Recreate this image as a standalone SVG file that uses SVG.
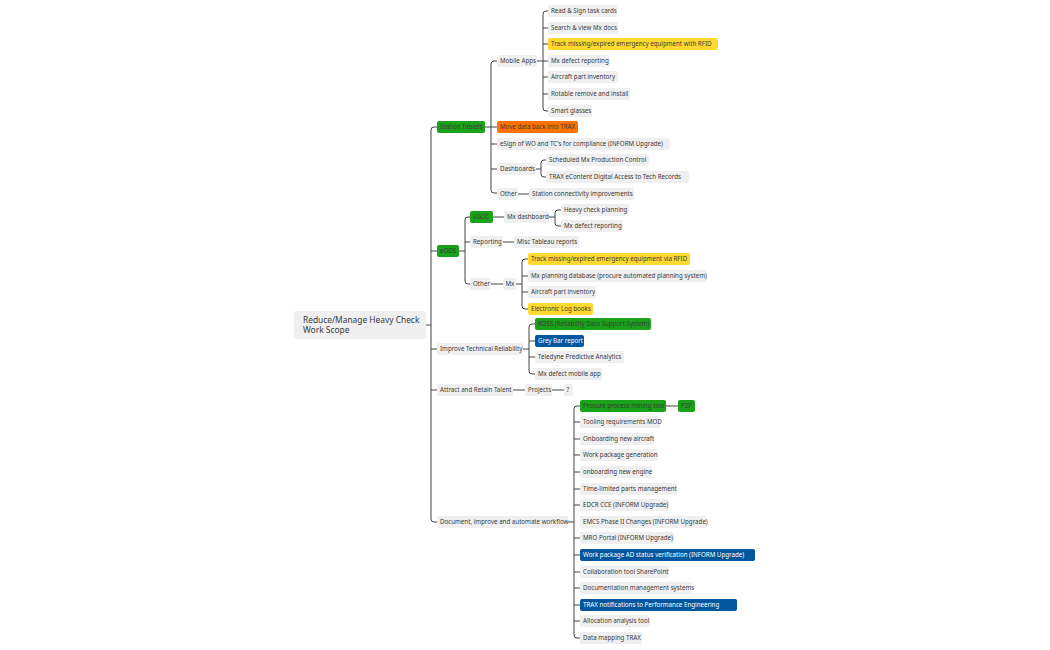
<svg xmlns="http://www.w3.org/2000/svg" width="1050" height="650" viewBox="0 0 1050 650">
<style>
.n rect{fill:#efefef}
.n text{font-family:"Noto Sans","Liberation Sans",sans-serif;font-size:6.2px;fill:#3a3a3a}
.g rect{fill:#1ba21b}.o rect{fill:#ff7200}.y rect{fill:#ffd92f}.b rect{fill:#00579e}
.b text{fill:#fff}
#edges path{fill:none;stroke:#444;stroke-width:1}
</style>
<rect width="1050" height="650" fill="#fff"/>
<g id="edges">
<path d="M426,325 H431 M437,127 H434 Q431,127 431,130 V519 Q431,522 434,522 H437 M431,251 H437 M431,349 H437 M431,390 H437"/>
<path d="M485,127 H497 M497,61 H494 Q491,61 491,64 V190 Q491,193 494,193 H497 M491,144 H497 M491,169 H497"/>
<path d="M537,61 H543 M548,11 H546 Q543,11 543,14 V108 Q543,111 546,111 H548 M543,28 H548 M543,44 H548 M543,61 H548 M543,77 H548 M543,94 H548"/>
<path d="M536,169 H541 M546,160 H544 Q541,160 541,163 V174 Q541,177 544,177 H546"/>
<path d="M518,194 H529"/>
<path d="M459,251 H465 M470,217 H468 Q465,217 465,220 V281 Q465,284 468,284 H470 M465,242 H470"/>
<path d="M493,217 H504 M549,217 H555 M561,210 H558 Q555,210 555,213 V223 Q555,226 558,226 H561"/>
<path d="M503,242 H514 M491,284 H503"/>
<path d="M516,284 H522 M528,259 H525 Q522,259 522,262 V306 Q522,309 525,309 H528 M522,276 H528 M522,292 H528"/>
<path d="M523,349 H529 M535,324 H532 Q529,324 529,327 V371 Q529,374 532,374 H535 M529,341 H535 M529,357 H535"/>
<path d="M513,390 H525 M552,390 H564"/>
<path d="M568,522 H574 M580,406 H577 Q574,406 574,409 V635 Q574,638 577,638 H580 M574,422 H580 M574,439 H580 M574,455 H580 M574,472 H580 M574,489 H580 M574,505 H580 M574,538 H580 M574,555 H580 M574,572 H580 M574,588 H580 M574,605 H580 M574,621 H580 M666,406 H678"/>
</g>
<g id="root" class="n"><rect x="294" y="311" width="132" height="28" rx="3"/><text x="303" y="322.5" style="font-size:8.4px">Reduce/Manage Heavy Check</text><text x="303" y="333" style="font-size:8.4px">Work Scope</text></g>
<g id="st" class="n g"><rect x="437" y="121" width="48" height="12" rx="2"/><text x="440" y="129.3">Station Tablets</text></g>
<g id="eods" class="n g"><rect x="437" y="245" width="22" height="12" rx="2"/><text x="440" y="253.3">eODS</text></g>
<g id="itr" class="n"><rect x="437" y="343" width="86" height="12" rx="2"/><text x="440" y="351.3">Improve Technical Reliability</text></g>
<g id="art" class="n"><rect x="437" y="384" width="76" height="12" rx="2"/><text x="440" y="392.3">Attract and Retain Talent</text></g>
<g id="doc" class="n"><rect x="437" y="516" width="131" height="12" rx="2"/><text x="440" y="524.3">Document, improve and automate workflow</text></g>
<g id="ma" class="n"><rect x="497" y="55" width="40" height="12" rx="2"/><text x="500" y="63.3">Mobile Apps</text></g>
<g id="mv" class="n o"><rect x="497" y="121" width="81" height="12" rx="2"/><text x="500" y="129.3">Move data back into TRAX</text></g>
<g id="es" class="n"><rect x="497" y="138" width="173" height="12" rx="2"/><text x="500" y="146.3">eSign of WO and TC's for compliance (INFORM Upgrade)</text></g>
<g id="db" class="n"><rect x="497" y="163" width="39" height="12" rx="2"/><text x="500" y="171.3">Dashboards</text></g>
<g id="oth1" class="n"><rect x="497" y="188" width="21" height="12" rx="2"/><text x="500" y="196.3">Other</text></g>
<g id="m1" class="n"><rect x="548" y="5" width="69" height="12" rx="2"/><text x="551" y="13.3">Read &amp; Sign task cards</text></g>
<g id="m2" class="n"><rect x="548" y="22" width="70" height="12" rx="2"/><text x="551" y="30.3">Search &amp; view Mx docs</text></g>
<g id="m3" class="n y"><rect x="548" y="38" width="170" height="12" rx="2"/><text x="551" y="46.3">Track missing/expired emergency equipment with RFID</text></g>
<g id="m4" class="n"><rect x="548" y="55" width="62" height="12" rx="2"/><text x="551" y="63.3">Mx defect reporting</text></g>
<g id="m5" class="n"><rect x="548" y="71" width="70" height="12" rx="2"/><text x="551" y="79.3">Aircraft part inventory</text></g>
<g id="m6" class="n"><rect x="548" y="88" width="82" height="12" rx="2"/><text x="551" y="96.3">Rotable remove and install</text></g>
<g id="m7" class="n"><rect x="548" y="105" width="44" height="12" rx="2"/><text x="551" y="113.3">Smart glasses</text></g>
<g id="d1" class="n"><rect x="546" y="154" width="103" height="12" rx="2"/><text x="549" y="162.3">Scheduled Mx Production Control</text></g>
<g id="d2" class="n"><rect x="546" y="171" width="143" height="12" rx="2"/><text x="549" y="179.3">TRAX eContent Digital Access to Tech Records</text></g>
<g id="sc" class="n"><rect x="529" y="188" width="105" height="12" rx="2"/><text x="532" y="196.3">Station connectivity improvements</text></g>
<g id="vgcc" class="n g"><rect x="470" y="211" width="23" height="12" rx="2"/><text x="473" y="219.3">VGCC</text></g>
<g id="rep" class="n"><rect x="470" y="236" width="33" height="12" rx="2"/><text x="473" y="244.3">Reporting</text></g>
<g id="oth2" class="n"><rect x="470" y="278" width="21" height="12" rx="2"/><text x="473" y="286.3">Other</text></g>
<g id="mxd" class="n"><rect x="504" y="211" width="45" height="12" rx="2"/><text x="507" y="219.3">Mx dashboard</text></g>
<g id="hcp" class="n"><rect x="561" y="204" width="68" height="12" rx="2"/><text x="564" y="212.3">Heavy check planning</text></g>
<g id="mdr" class="n"><rect x="561" y="220" width="62" height="12" rx="2"/><text x="564" y="228.3">Mx defect reporting</text></g>
<g id="mtr" class="n"><rect x="514" y="236" width="65" height="12" rx="2"/><text x="517" y="244.3">Misc Tableau reports</text></g>
<g id="mx" class="n"><rect x="503" y="278" width="13" height="12" rx="2"/><text x="505.5" y="286.3">Mx</text></g>
<g id="x1" class="n y"><rect x="528" y="253" width="162" height="12" rx="2"/><text x="531" y="261.3">Track missing/expired emergency equipment via RFID</text></g>
<g id="x2" class="n"><rect x="528" y="270" width="178" height="12" rx="2"/><text x="531" y="278.3">Mx planning database (procure automated planning system)</text></g>
<g id="x3" class="n"><rect x="528" y="286" width="68" height="12" rx="2"/><text x="531" y="294.3">Aircraft part inventory</text></g>
<g id="x4" class="n y"><rect x="528" y="303" width="65" height="12" rx="2"/><text x="531" y="311.3">Electronic Log books</text></g>
<g id="r1" class="n g"><rect x="535" y="318" width="116" height="12" rx="2"/><text x="538" y="326.3">RDSS (Reliability Data Support System)</text></g>
<g id="r2" class="n b"><rect x="535" y="335" width="49" height="12" rx="2"/><text x="538" y="343.3">Grey Bar report</text></g>
<g id="r3" class="n"><rect x="535" y="351" width="89" height="12" rx="2"/><text x="538" y="359.3">Teledyne Predictive Analytics</text></g>
<g id="r4" class="n"><rect x="535" y="368" width="67" height="12" rx="2"/><text x="538" y="376.3">Mx defect mobile app</text></g>
<g id="proj" class="n"><rect x="525" y="384" width="27" height="12" rx="2"/><text x="528" y="392.3">Projects</text></g>
<g id="q" class="n"><rect x="564" y="384" width="9" height="12" rx="2"/><text x="566.5" y="392.3">?</text></g>
<g id="w1" class="n g"><rect x="580" y="400" width="86" height="12" rx="2"/><text x="583" y="408.3">Procure process mining tool</text></g>
<g id="p2p" class="n g"><rect x="678" y="400" width="17" height="12" rx="2"/><text x="681" y="408.3">P2P</text></g>
<g id="w2" class="n"><rect x="580" y="416" width="80" height="12" rx="2"/><text x="583" y="424.3">Tooling requirements MOD</text></g>
<g id="w3" class="n"><rect x="580" y="433" width="74" height="12" rx="2"/><text x="583" y="441.3">Onboarding new aircraft</text></g>
<g id="w4" class="n"><rect x="580" y="449" width="78" height="12" rx="2"/><text x="583" y="457.3">Work package generation</text></g>
<g id="w5" class="n"><rect x="580" y="466" width="72" height="12" rx="2"/><text x="583" y="474.3">onboarding new engine</text></g>
<g id="w6" class="n"><rect x="580" y="483" width="97" height="12" rx="2"/><text x="583" y="491.3">Time-limited parts management</text></g>
<g id="w7" class="n"><rect x="580" y="499" width="89" height="12" rx="2"/><text x="583" y="507.3">EDCR CCE (INFORM Upgrade)</text></g>
<g id="w8" class="n"><rect x="580" y="516" width="126" height="12" rx="2"/><text x="583" y="524.3">EMCS Phase II Changes (INFORM Upgrade)</text></g>
<g id="w9" class="n"><rect x="580" y="532" width="94" height="12" rx="2"/><text x="583" y="540.3">MRO Portal (INFORM Upgrade)</text></g>
<g id="w10" class="n b"><rect x="580" y="549" width="175" height="12" rx="2"/><text x="583" y="557.3">Work package AD status verification (INFORM Upgrade)</text></g>
<g id="w11" class="n"><rect x="580" y="566" width="89" height="12" rx="2"/><text x="583" y="574.3">Collaboration tool SharePoint</text></g>
<g id="w12" class="n"><rect x="580" y="582" width="112" height="12" rx="2"/><text x="583" y="590.3">Documentation management systems</text></g>
<g id="w13" class="n b"><rect x="580" y="599" width="157" height="12" rx="2"/><text x="583" y="607.3">TRAX notifications to Performance Engineering</text></g>
<g id="w14" class="n"><rect x="580" y="615" width="70" height="12" rx="2"/><text x="583" y="623.3">Allocation analysis tool</text></g>
<g id="w15" class="n"><rect x="580" y="632" width="62" height="12" rx="2"/><text x="583" y="640.3">Data mapping TRAX</text></g>
</svg>
